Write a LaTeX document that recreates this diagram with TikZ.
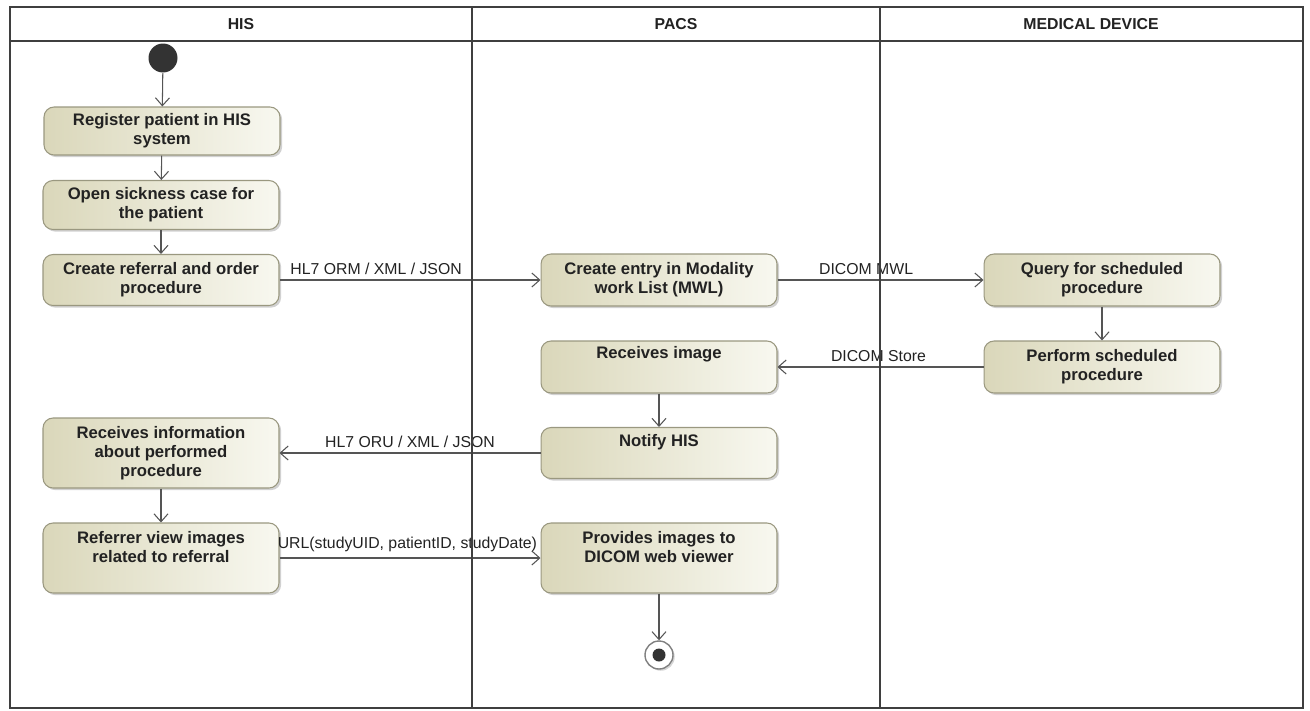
\documentclass[tikz,border=0pt]{standalone}
\usepackage{fontspec}
\setmainfont{Liberation Sans}
\usetikzlibrary{arrows.meta,shadows}
\definecolor{laneline}{HTML}{3F3F3F}
\definecolor{edgecol}{HTML}{555555}
\definecolor{actL}{HTML}{DAD7BA}
\definecolor{actR}{HTML}{F8F8F0}
\definecolor{actborder}{HTML}{9A9880}
\definecolor{txt}{HTML}{222222}
\definecolor{dotcol}{HTML}{333333}
\pgfdeclarelayer{fg}
\pgfsetlayers{main,fg}
\newcommand{\mytopbox}[4]{\parbox[t][#1][t]{4.72cm}{\centering\rule{0pt}{#2}#3\par}}
\begin{document}
\begin{tikzpicture}[x=0.02cm,y=-0.02cm,
  action/.style={rounded corners=0.2cm, draw=actborder, line width=0.6pt,
    left color=actL, right color=actR,
    drop shadow={shadow xshift=1.2pt,shadow yshift=-1.2pt,fill=black!40,opacity=0.45},
    minimum width=4.72cm, font=\bfseries\fontsize{9.5}{10.8}\selectfont,
    text=txt, align=center, inner sep=0pt},
  flow/.style={draw=edgecol, line width=0.6pt, -{Straight Barb[length=4.5pt,width=8pt]}},
  lbl/.style={font=\fontsize{9}{10}\selectfont, text=txt, inner sep=1pt},
  lane/.style={draw=laneline, line width=1.6pt},
  head/.style={font=\bfseries\fontsize{9}{10}\selectfont, text=txt}]
\useasboundingbox (0,0) rectangle (1310,710);

% headers
\node[head] (hhis) at (241,24) {HIS};
\node[head] (hpacs) at (676,24) {PACS};
\node[head] (hdev) at (1091,24) {MEDICAL DEVICE};

% start / end
\node[circle, fill=dotcol, minimum size=0.58cm, inner sep=0pt] (start) at (163,58) {};
\node[circle, draw=gray, fill=white, line width=0.8pt, minimum size=0.56cm, inner sep=0pt,
  drop shadow={shadow xshift=1pt,shadow yshift=-1pt,fill=black!40,opacity=0.4}] (end) at (659,655) {};
\node[circle, fill=dotcol, minimum size=0.26cm, inner sep=0pt] (endin) at (end) {};

% actions
\node[action, minimum height=0.96cm] (reg) at (162,131) {Register patient in HIS\\system};
\node[action, minimum height=0.98cm] (open) at (161,205) {Open sickness case for\\the patient};
\node[action, minimum height=1.02cm] (ref) at (161,280) {Create referral and order\\procedure};
\node[action, minimum height=1.04cm] (mwl) at (659,280) {Create entry in Modality\\work List (MWL)};
\node[action, minimum height=1.04cm] (query) at (1102,280) {Query for scheduled\\procedure};
\node[action] (recv) at (659,367) {\mytopbox{1.04cm}{9.7pt}{Receives image}{}};
\node[action, minimum height=1.04cm] (perf) at (1102,367) {Perform scheduled\\procedure};
\node[action, minimum height=1.4cm] (rinfo) at (161,453) {Receives information\\about performed\\procedure};
\node[action] (notify) at (659,453) {\mytopbox{1.02cm}{10.8pt}{Notify HIS}{}};
\node[action] (refv) at (161,558) {\mytopbox{1.4cm}{11.9pt}{Referrer view images\\related to referral}{}};
\node[action] (prov) at (659,558) {\mytopbox{1.4cm}{11.5pt}{Provides images to\\DICOM web viewer}{}};

% flows
\draw[flow] (start) -- (reg);
\draw[flow] (reg) -- (open);
\draw[flow] (open) -- (ref);
\draw[flow] (ref) -- node[lbl, pos=0.37, above=2pt] (l1) {HL7 ORM / XML / JSON} (mwl);
\draw[flow] (mwl) -- node[lbl, pos=0.43, above=2pt] (l2) {DICOM MWL} (query);
\draw[flow] (query) -- (perf);
\draw[flow] (perf) -- node[lbl, pos=0.51, above=2pt] (l3) {DICOM Store} (recv);
\draw[flow] (recv) -- (notify);
\draw[flow] (notify) -- node[lbl, pos=0.5, above=2pt] (l4) {HL7 ORU / XML / JSON} (rinfo);
\draw[flow] (rinfo) -- (refv);
\draw[flow] (refv) -- node[lbl, pos=0.49, above=2pt] (l5) {URL(studyUID, patientID, studyDate)} (prov);
\draw[flow] (prov) -- (end);

% swimlanes on top
\begin{pgfonlayer}{fg}
\draw[lane] (10,7) rectangle (1303,708);
\draw[lane] (10,41) -- (1303,41);
\draw[lane] (472,7) -- (472,708);
\draw[lane] (880,7) -- (880,708);
\end{pgfonlayer}
\end{tikzpicture}
\end{document}
